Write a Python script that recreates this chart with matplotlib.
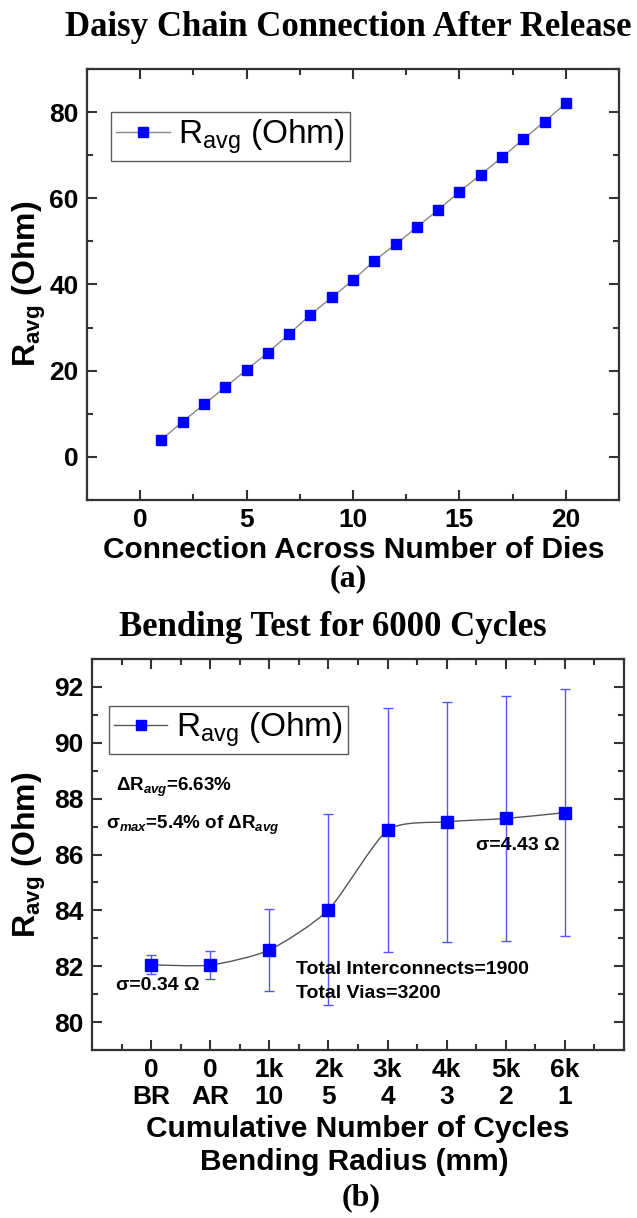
import matplotlib.pyplot as plt
import numpy as np
from matplotlib.path import Path
from matplotlib.patches import PathPatch
from matplotlib.ticker import MultipleLocator

plt.rcParams['font.family'] = ['Liberation Sans', 'DejaVu Sans']
plt.rcParams['mathtext.fontset'] = 'custom'
plt.rcParams['mathtext.rm'] = 'Liberation Sans'
plt.rcParams['mathtext.bf'] = 'Liberation Sans:bold'
plt.rcParams['mathtext.it'] = 'Liberation Sans:bold:italic'

# (a) daisy chain resistance vs. number of dies
dies = np.arange(1, 21)
r_chain = [4.0, 8.2, 12.2, 16.2, 20.2, 24.2, 28.5, 33.0, 37.0, 41.0,
           45.5, 49.3, 53.3, 57.3, 61.5, 65.5, 69.5, 73.7, 77.8, 82.0]

# (b) bending test
cycles = ['0', '0', '1k', '2k', '3k', '4k', '5k', '6k']
radius = ['BR', 'AR', '10', '5', '4', '3', '2', '1']
r_bend = [82.05, 82.04, 82.58, 84.02, 86.87, 87.17, 87.29, 87.50]
r_sigma = [0.34, 0.50, 1.47, 3.42, 4.36, 4.29, 4.38, 4.43]

W, H = 637, 1218
fig = plt.figure(figsize=(W / 100, H / 100), dpi=100)


def fy(y):
    return 1 - y / H


def fx(x):
    return x / W


def style_axes(ax, size, pad):
    for s in ax.spines.values():
        s.set_linewidth(1.6)
        s.set_color('#333333')
    ax.tick_params(which='both', direction='in', top=True, right=True,
                   width=1.5, color='#333333')
    ax.tick_params(which='major', length=7, labelsize=size, pad=pad)
    ax.tick_params(which='minor', length=4)
    for lab in ax.get_xticklabels() + ax.get_yticklabels():
        lab.set_fontweight('bold')


def smooth_path(x, y, k=9.0):
    # cubic bezier through every point (Catmull-Rom style tangents)
    p = np.column_stack([x, y]).astype(float)
    n = len(p)
    verts = [p[0]]
    codes = [Path.MOVETO]
    for i in range(n - 1):
        p0 = p[i - 1] if i > 0 else p[i]
        p3 = p[i + 2] if i + 2 < n else p[i + 1]
        c1 = p[i] + (p[i + 1] - p0) / k
        c2 = p[i + 1] - (p3 - p[i]) / k
        verts += [c1, c2, p[i + 1]]
        codes += [Path.CURVE4] * 3
    return Path(verts, codes)


def add_legend(ax, anchor):
    leg = ax.legend(loc='upper left', bbox_to_anchor=anchor, fontsize=24,
                    frameon=True, fancybox=False, edgecolor='#333333',
                    handlelength=1.6, handletextpad=0.25, borderpad=0.15,
                    borderaxespad=0)
    leg.get_frame().set_linewidth(1.0)


# ---------- (a) ----------
ax1 = fig.add_axes([fx(87), fy(500), fx(619) - fx(87), fy(69) - fy(500)])
ax1.plot(dies, r_chain, '-', color='#888888', lw=1.0,
         marker='s', ms=7, mfc='#0000ff', mec='#0000ff',
         label=r'R$_{\mathrm{avg}}$ (Ohm)')
ax1.set_xlim(-2.5, 22.5)
ax1.set_ylim(-10, 90)
ax1.set_xticks([0, 5, 10, 15, 20])
ax1.set_yticks([0, 20, 40, 60, 80])
ax1.xaxis.set_minor_locator(MultipleLocator(2.5))
ax1.yaxis.set_minor_locator(MultipleLocator(10))
style_axes(ax1, 19, 6)
add_legend(ax1, (0.046, 0.9))

fig.text(fx(29), fy(284), r'R$_{\mathbf{avg}}$ (Ohm)', fontsize=23,
         fontweight='bold', rotation=90, ha='center', va='center')
fig.text(fx(348), fy(27), 'Daisy Chain Connection After Release',
         family='Liberation Serif', fontweight='bold', fontsize=25,
         ha='center', va='center')
fig.text(fx(354), fy(550), 'Connection Across Number of Dies',
         fontweight='bold', fontsize=21.5, ha='center', va='center')
fig.text(fx(348), fy(579), '(a)', family='Liberation Serif',
         fontweight='bold', fontsize=23, ha='center', va='center')

# ---------- (b) ----------
ax2 = fig.add_axes([fx(92), fy(1050), fx(624) - fx(92), fy(659) - fy(1050)])
pos = np.arange(len(cycles))
ax2.errorbar(pos, r_bend, yerr=r_sigma, fmt='none', ecolor='#5555ff',
             elinewidth=1.0, capsize=3.5, capthick=1.0, zorder=2)
ax2.add_patch(PathPatch(smooth_path(pos, r_bend), fill=False,
                        edgecolor='#555555', lw=1.0, zorder=3))
ax2.plot(pos, r_bend, ls='none', marker='s', ms=9, mfc='#0000ff',
         mec='#0000ff', zorder=4)
ax2.plot([], [], '-', color='#555555', lw=1.0, marker='s', ms=7,
         mfc='#0000ff', mec='#0000ff', label=r'R$_{\mathrm{avg}}$ (Ohm)')
ax2.set_xlim(-1, 8)
ax2.set_ylim(79, 93)
ax2.set_xticks(pos)
ax2.set_xticklabels([c + '\n' + r for c, r in zip(cycles, radius)],
                    linespacing=1.15)
ax2.set_yticks(np.arange(80, 93, 2))
ax2.xaxis.set_minor_locator(MultipleLocator(0.5))
ax2.yaxis.set_minor_locator(MultipleLocator(1))
style_axes(ax2, 19, 6)
add_legend(ax2, (0.032, 0.88))

ax2.text(fx(116), fy(787), r'ΔR$_{avg}$=6.63%', transform=fig.transFigure,
         fontsize=13.5, fontweight='bold', va='center')
ax2.text(fx(106), fy(825), r'σ$_{max}$=5.4% of ΔR$_{avg}$',
         transform=fig.transFigure, fontsize=13.5, fontweight='bold',
         va='center')
ax2.text(fx(476), fy(845), 'σ=4.43 Ω', transform=fig.transFigure,
         fontsize=14, fontweight='bold', va='center')
ax2.text(fx(116), fy(985), 'σ=0.34 Ω', transform=fig.transFigure,
         fontsize=14, fontweight='bold', va='center')
ax2.text(fx(296), fy(970), 'Total Interconnects=1900',
         transform=fig.transFigure, fontsize=14, fontweight='bold',
         va='center')
ax2.text(fx(296), fy(994), 'Total Vias=3200', transform=fig.transFigure,
         fontsize=14, fontweight='bold', va='center')

fig.text(fx(29), fy(855), r'R$_{\mathbf{avg}}$ (Ohm)', fontsize=23,
         fontweight='bold', rotation=90, ha='center', va='center')
fig.text(fx(333), fy(627), 'Bending Test for 6000 Cycles',
         family='Liberation Serif', fontweight='bold', fontsize=25,
         ha='center', va='center')
fig.text(fx(358), fy(1129), 'Cumulative Number of Cycles',
         fontweight='bold', fontsize=21.5, ha='center', va='center')
fig.text(fx(354), fy(1162), 'Bending Radius (mm)',
         fontweight='bold', fontsize=21.5, ha='center', va='center')
fig.text(fx(361), fy(1198), '(b)', family='Liberation Serif',
         fontweight='bold', fontsize=23, ha='center', va='center')

fig.savefig('out.png', dpi=100)
